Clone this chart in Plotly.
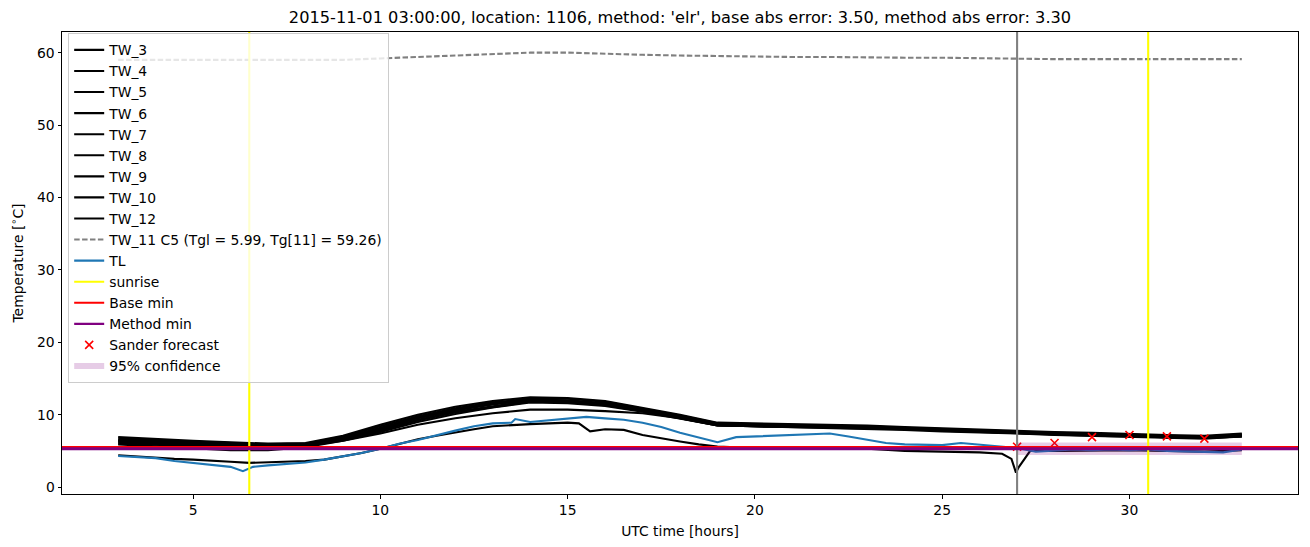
import plotly.graph_objects as go

# ---------------- data ----------------
HOURS = [3, 4, 5, 6, 7, 8, 9, 10, 11, 12, 13, 14, 15, 16, 17, 18, 19, 20, 21, 22, 23, 24, 25, 26, 27, 28, 29, 30, 31, 32, 33]

TW_3 = [6.9, 6.6, 6.4, 6.2, 6.0, 6.1, 7.1, 8.6, 10.0, 11.1, 11.9, 12.4, 12.3, 11.9, 11.0, 10.0, 8.9, 8.8, 8.7, 8.7, 8.5, 8.3, 8.1, 8.0, 7.8, 7.6, 7.5, 7.3, 7.2, 7.1, 7.4]
TW_4 = [6.7, 6.5, 6.3, 6.1, 5.9, 6.0, 7.0, 8.4, 9.8, 10.9, 11.7, 12.2, 12.2, 11.8, 10.9, 9.9, 8.8, 8.7, 8.6, 8.6, 8.4, 8.2, 8.0, 7.9, 7.7, 7.5, 7.4, 7.2, 7.1, 7.0, 7.3]
TW_5 = [6.5, 6.3, 6.1, 5.9, 5.8, 5.9, 6.8, 8.2, 9.6, 10.7, 11.5, 12.1, 12.0, 11.6, 10.8, 9.8, 8.7, 8.6, 8.5, 8.5, 8.3, 8.1, 7.9, 7.8, 7.6, 7.4, 7.3, 7.1, 7.0, 6.9, 7.2]
TW_6 = [6.4, 6.2, 6.0, 5.8, 5.7, 5.8, 6.7, 8.1, 9.5, 10.6, 11.4, 12.0, 11.9, 11.5, 10.7, 9.7, 8.6, 8.5, 8.5, 8.4, 8.3, 8.1, 7.9, 7.7, 7.5, 7.4, 7.2, 7.1, 7.0, 6.9, 7.1]
TW_7 = [6.2, 6.0, 5.9, 5.7, 5.6, 5.8, 6.6, 7.9, 9.3, 10.4, 11.2, 11.9, 11.8, 11.4, 10.6, 9.6, 8.6, 8.4, 8.4, 8.3, 8.2, 8.0, 7.8, 7.7, 7.5, 7.3, 7.2, 7.0, 6.9, 6.8, 7.1]
TW_8 = [6.0, 5.9, 5.7, 5.5, 5.5, 5.7, 6.5, 7.8, 9.2, 10.3, 11.1, 11.8, 11.7, 11.3, 10.5, 9.5, 8.5, 8.4, 8.3, 8.3, 8.2, 8.0, 7.8, 7.6, 7.5, 7.3, 7.1, 7.0, 6.9, 6.8, 7.0]
TW_9 = [5.9, 5.6, 5.4, 5.1, 5.1, 5.5, 6.4, 7.6, 9.0, 10.1, 11.0, 11.7, 11.6, 11.2, 10.4, 9.4, 8.5, 8.4, 8.3, 8.2, 8.1, 7.9, 7.7, 7.6, 7.4, 7.2, 7.1, 6.9, 6.8, 6.7, 7.0]
TW_10 = [6.3, 6.1, 5.9, 5.7, 5.6, 5.7, 6.4, 7.4, 8.6, 9.5, 10.2, 10.7, 10.7, 10.5, 10.2, 9.5, 8.5, 8.4, 8.4, 8.3, 8.2, 8.0, 7.8, 7.7, 7.5, 7.3, 7.2, 7.0, 6.9, 6.8, 7.0]

TW_12_X = [3.0, 3.5, 4.0, 4.5, 5.0, 5.5, 6.0, 6.5, 7.0, 7.5, 8.0, 8.5, 9.0, 9.5, 10.0, 10.5, 11.0, 11.5, 12.0, 12.5,
           13.0, 13.5, 14.0, 14.5, 15.0, 15.3, 15.6, 16.0, 16.5, 17.0, 17.5, 18.0, 18.5, 19.0, 19.5, 20.0, 21.0, 22.0,
           22.5, 23.0, 23.5, 24.0, 25.0, 26.0, 26.6, 26.85, 26.97, 27.05, 27.2, 27.35, 28.0, 29.0, 30.0, 31.0, 32.0, 33.0]
TW_12 = [4.4, 4.2, 4.0, 3.9, 3.8, 3.7, 3.5, 3.35, 3.4, 3.45, 3.6, 3.8, 4.2, 4.7, 5.3, 6.0, 6.6, 7.1, 7.6, 8.0,
         8.4, 8.6, 8.7, 8.8, 8.9, 8.8, 7.7, 8.0, 7.9, 7.2, 6.7, 6.3, 5.9, 5.6, 5.5, 5.5, 5.5, 5.5,
         5.4, 5.3, 5.1, 5.0, 4.9, 4.8, 4.6, 3.9, 2.0, 2.8, 3.9, 5.0, 5.0, 5.1, 5.1, 5.0, 4.9, 5.1]

TW_11 = [59.0, 59.0, 58.9, 58.9, 58.9, 59.0, 59.0, 59.2, 59.4, 59.6, 59.8, 60.0, 60.0, 59.8, 59.7, 59.6, 59.5, 59.4, 59.4, 59.4,
         59.3, 59.3, 59.3, 59.2, 59.2, 59.1, 59.1, 59.1, 59.0, 59.0, 59.1]

TL_X = [3.0, 3.5, 4.0, 4.5, 5.0, 5.5, 6.0, 6.33, 6.6, 7.0, 7.5, 8.0, 8.5, 9.0, 9.5, 10.0, 10.5, 11.0, 11.5, 12.0, 12.5,
        13.0, 13.5, 13.6, 14.0, 14.5, 15.0, 15.5, 16.0, 16.5, 17.0, 17.5, 18.0, 18.5, 19.0, 19.5, 20.0, 20.5, 21.0, 21.5,
        22.0, 22.5, 23.0, 23.5, 24.0, 24.5, 25.0, 25.5, 26.0, 26.5, 27.0, 27.5, 28.0, 28.5, 29.0, 29.5, 30.0, 30.5, 31.0,
        31.5, 32.0, 32.5, 33.0]
TL = [4.3, 4.1, 4.0, 3.6, 3.3, 3.0, 2.8, 2.2, 2.8, 3.0, 3.2, 3.4, 3.8, 4.2, 4.7, 5.3, 6.0, 6.5, 7.2, 7.8, 8.4,
      8.8, 8.9, 9.4, 9.0, 9.2, 9.5, 9.7, 9.5, 9.3, 8.9, 8.3, 7.5, 6.8, 6.2, 6.9, 7.0, 7.1, 7.2, 7.2,
      7.4, 7.0, 6.5, 6.1, 5.9, 5.8, 5.8, 6.1, 5.9, 5.6, 5.4, 4.9, 5.1, 5.2, 5.1, 5.2, 5.1, 5.2, 5.0,
      4.9, 4.9, 4.8, 5.2]

SUNRISE = [6.5, 30.5]
FORECAST_TIME = 27
BASE_MIN = 5.5
METHOD_MIN = 5.3
SANDER_X = [27, 28, 29, 30, 31, 32]
SANDER_Y = [5.57, 6.1, 6.9, 7.2, 7.0, 6.7]
CONF_X = [27, 33]
CONF_LOW = [4.45, 4.45]
CONF_HIGH = [6.15, 6.15]

TITLE = "2015-11-01 03:00:00, location: 1106, method: 'elr', base abs error: 3.50, method abs error: 3.30"

FONT = "DejaVu Sans"
LW = 2.1

# ---------------- figure ----------------
fig = go.Figure()

black = [("TW_3", HOURS, TW_3), ("TW_4", HOURS, TW_4), ("TW_5", HOURS, TW_5), ("TW_6", HOURS, TW_6),
         ("TW_7", HOURS, TW_7), ("TW_8", HOURS, TW_8), ("TW_9", HOURS, TW_9), ("TW_10", HOURS, TW_10),
         ("TW_12", TW_12_X, TW_12)]
for name, xs, ys in black:
    fig.add_trace(go.Scatter(x=xs, y=ys, mode="lines", name=name, legendgroup=name,
                             line=dict(color="black", width=LW)))

fig.add_trace(go.Scatter(x=HOURS, y=TW_11, mode="lines", name="TW_11 C5 (Tgl = 5.99, Tg[11] = 59.26)",
                         legendgroup="tw11", line=dict(color="gray", width=LW, dash="5.5px,2.4px")))
fig.add_trace(go.Scatter(x=TL_X, y=TL, mode="lines", name="TL", legendgroup="tl",
                         line=dict(color="#1f77b4", width=LW)))
# legend-only entries for the reference lines drawn as shapes
fig.add_trace(go.Scatter(x=[None], y=[None], mode="lines", name="sunrise", legendgroup="sun",
                         line=dict(color="yellow", width=LW)))
fig.add_trace(go.Scatter(x=[None], y=[None], mode="lines", name="Base min", legendgroup="base",
                         line=dict(color="red", width=LW)))
fig.add_trace(go.Scatter(x=[None], y=[None], mode="lines", name="Method min", legendgroup="meth",
                         line=dict(color="purple", width=LW)))
fig.add_trace(go.Scatter(x=SANDER_X, y=SANDER_Y, mode="markers", name="Sander forecast", legendgroup="sander",
                         marker=dict(symbol="x-thin", size=8, line=dict(color="red", width=1.6), color="red")))
fig.add_trace(go.Scatter(x=CONF_X + CONF_X[::-1], y=CONF_HIGH + CONF_LOW[::-1], mode="none", fill="toself",
                         fillcolor="rgba(128,0,128,0.2)", name="95% confidence", legendgroup="conf"))

shapes = [dict(type="line", xref="x", yref="paper", x0=FORECAST_TIME, x1=FORECAST_TIME, y0=0, y1=1,
               line=dict(color="gray", width=LW), layer="above")]
for s in SUNRISE:
    shapes.append(dict(type="line", xref="x", yref="paper", x0=s, x1=s, y0=0, y1=1,
                       line=dict(color="yellow", width=LW), layer="above"))
shapes.append(dict(type="line", xref="paper", yref="y", x0=0, x1=1, y0=BASE_MIN, y1=BASE_MIN,
                   line=dict(color="red", width=2.8), layer="above"))
shapes.append(dict(type="line", xref="paper", yref="y", x0=0, x1=1, y0=METHOD_MIN, y1=METHOD_MIN,
                   line=dict(color="purple", width=2.8), layer="above"))

fig.update_layout(
    width=1310, height=547,
    margin=dict(l=62, r=12, t=32, b=53),
    paper_bgcolor="white", plot_bgcolor="white",
    font=dict(family=FONT, size=13.9, color="black"),
    title=dict(text=TITLE, x=0.5, xref="paper", xanchor="center", y=1 - 17 / 547, yref="container",
               yanchor="middle", font=dict(family=FONT, size=16.2, color="black")),
    shapes=shapes,
    showlegend=True,
    legend=dict(x=0.005, y=0.997, xanchor="left", yanchor="top", bgcolor="rgba(255,255,255,0.8)",
                bordercolor="#cccccc", borderwidth=1, font=dict(family=FONT, size=13.9, color="black"),
                traceorder="grouped", tracegroupgap=0, itemwidth=30),
    xaxis=dict(range=[1.5, 34.5], tickvals=[5, 10, 15, 20, 25, 30], showgrid=False, zeroline=False,
               showline=True, mirror=True, linecolor="black", linewidth=1, ticks="outside", ticklen=3.5,
               tickwidth=1, tickcolor="black", automargin=False,
               title=dict(text="UTC time [hours]", font=dict(family=FONT, size=13.9), standoff=9)),
    yaxis=dict(range=[-0.95, 62.85], tickvals=[0, 10, 20, 30, 40, 50, 60], showgrid=False, zeroline=False,
               showline=True, mirror=True, linecolor="black", linewidth=1, ticks="outside", ticklen=3.5,
               tickwidth=1, tickcolor="black", automargin=False,
               title=dict(text="Temperature [<sup>∘</sup>C]", font=dict(family=FONT, size=13.9), standoff=10)),
)

fig.write_html("out.html")
